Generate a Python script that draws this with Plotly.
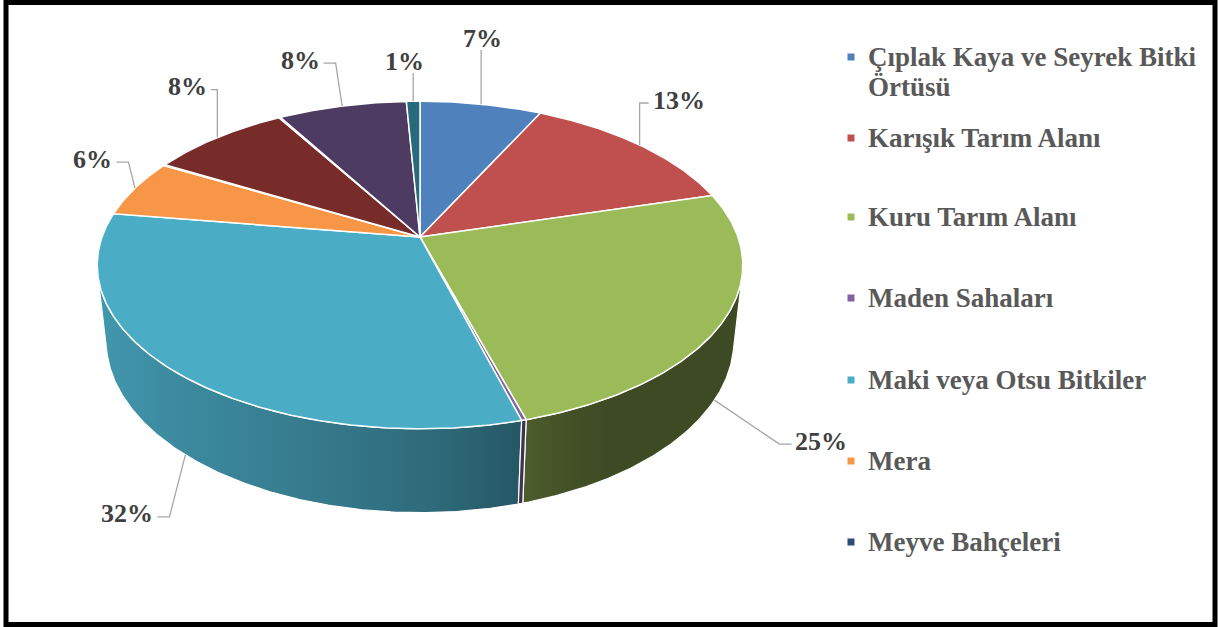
import math
import plotly.graph_objects as go

# ---- data -------------------------------------------------------------
categories = [
    "Çıplak Kaya ve Seyrek Bitki Örtüsü",
    "Karışık Tarım Alanı",
    "Kuru Tarım Alanı",
    "Maden Sahaları",
    "Maki veya Otsu Bitkiler",
    "Mera",
    "Meyve Bahçeleri",
    "Orman Alanı",
    "Su Yüzeyleri",
    "Sulu Tarım Alanı",
    "Yerleşim Alanı",
]
shares = [7.2, 13.4, 24.9, 0.2, 31.7, 5.7, 0.1, 8.3, 0.1, 7.6, 0.8]
legend_text = [
    "Çıplak Kaya ve Seyrek Bitki<br>Örtüsü",
    "Karışık Tarım Alanı",
    "Kuru Tarım Alanı",
    "Maden Sahaları",
    "Maki veya Otsu Bitkiler",
    "Mera",
    "Meyve Bahçeleri",
]

# ---- style ------------------------------------------------------------
colors = ["#4F81BD", "#C0504D", "#9BBB59", "#8064A2", "#4BACC6", "#F79646",
          "#2C4D75", "#772C2A", "#5F7530", "#4D3B62", "#276A7C"]
# label offsets (px) from the leader anchor on the pie edge
label_offsets = {0: (1, -66), 1: (39, -45), 2: (107, 41), 4: (-58, 59),
                 5: (-42, -29), 7: (-30, -51), 9: (-42, -46), 10: (-9, -40)}
# legend layout (px)
LEGEND_MARK_X = 851
LEGEND_TEXT_X = 866
LEGEND_Y = [57, 138, 217, 298, 380, 461, 542]
LEGEND_LINE = 30

SERIF = "Liberation Serif"
W, H_PX = 1218, 627
CX, CY = 420.0, 237.0        # screen position of the pie centre
SCALE = 318.0                # px per unit radius
TILT = math.radians(30)      # elevation of the view
DIST = 5.06                  # perspective distance (in radii)
THICK = 0.28                 # pie thickness (in radii)
LABEL_FONT = 26
LEGEND_FONT = 27
LEADER = "#A6A6A6"


def project(theta_deg, z, r=1.0):
    t = math.radians(theta_deg)
    x, y = r * math.cos(t), r * math.sin(t)
    yup = z * math.cos(TILT) + y * math.sin(TILT)
    d = y * math.cos(TILT) - z * math.sin(TILT)
    f = DIST / (DIST + d)
    return CX + SCALE * f * x, CY - SCALE * f * yup


def hex_rgb(h):
    h = h.lstrip("#")
    return tuple(int(h[i:i + 2], 16) for i in (0, 2, 4))


def shade(theta_deg):
    c = math.cos(math.radians(theta_deg))
    s = 0.64 - 0.25 * c if c < 0 else 0.64 - 0.5 * c
    return min(0.9, max(0.40, s))


def shaded(hexcol, k):
    r, g, b = hex_rgb(hexcol)
    return f"rgb({int(r * k)},{int(g * k)},{int(b * k)})"


def arc(a0, a1, z, step=0.5):
    n = max(2, int(math.ceil(abs(a1 - a0) / step)) + 1)
    return [project(a0 + (a1 - a0) * i / (n - 1), z) for i in range(n)]


total = sum(shares)
bounds = []
cum = 0.0
for v in shares:
    a0 = 90 - 360 * cum / total
    cum += v
    a1 = 90 - 360 * cum / total
    bounds.append((a0, a1))

fig = go.Figure()

# ---- outer wall (front half only) --------------------------------------
lim = math.degrees(math.asin(1.0 / (DIST * math.cos(TILT))))
vis_lo, vis_hi = -180 + lim, -lim
walls = []
for i, (a0, a1) in enumerate(bounds):
    lo, hi = max(a1, vis_lo), min(a0, vis_hi)
    if hi <= lo:
        continue
    top = arc(lo, hi, 0)
    bot = arc(hi, lo, -THICK)
    pts = top + bot + [top[0]]
    xs = [p[0] for p in pts]
    ys = [p[1] for p in pts]
    xmin, xmax = min(xs), max(xs)
    stops = []
    for k in range(9):
        th = lo + (hi - lo) * k / 8
        xm = 0.5 * (project(th, 0)[0] + project(th, -THICK)[0])
        pos = 0.0 if xmax - xmin < 1e-6 else (xm - xmin) / (xmax - xmin)
        stops.append([min(1.0, max(0.0, pos)), shaded(colors[i], shade(th))])
    stops[0][0] = 0.0
    stops[-1][0] = 1.0
    for k in range(1, len(stops)):
        stops[k][0] = max(stops[k][0], stops[k - 1][0])
    walls.append(((lo + hi) / 2, xs, ys, stops, i))

for _, xs, ys, stops, i in sorted(walls, key=lambda w: -math.sin(math.radians(w[0]))):
    fig.add_trace(go.Scatter(
        x=xs, y=ys, mode="lines", fill="toself",
        fillcolor=stops[len(stops) // 2][1],
        fillgradient=dict(type="horizontal", colorscale=stops,
                          start=min(xs), stop=max(xs) if max(xs) > min(xs) else min(xs) + 1),
        line=dict(color="white", width=1.2),
        hoverinfo="skip", showlegend=False))

# ---- top faces ---------------------------------------------------------
for i, (a0, a1) in enumerate(bounds):
    pts = [(CX, CY)] + arc(a0, a1, 0) + [(CX, CY)]
    fig.add_trace(go.Scatter(
        x=[p[0] for p in pts], y=[p[1] for p in pts],
        mode="lines", fill="toself", fillcolor=colors[i],
        line=dict(color="white", width=1.5),
        hoverinfo="skip", showlegend=False, name=categories[i]))

# ---- data labels with leader lines --------------------------------------
annotations = []
for i, (a0, a1) in enumerate(bounds):
    pct = round(100 * shares[i] / total)
    if pct == 0:
        continue
    mid = (a0 + a1) / 2
    z = 0 if math.sin(math.radians(mid)) > 0 else -THICK
    ax, ay = project(mid, z)
    dx, dy = label_offsets[i]
    lx, ly = ax + dx, ay + dy
    text = f"{pct}%"
    half_w = LABEL_FONT * (0.5 * (len(text) - 1) + 1.0) / 2
    if ax > lx + half_w + 4:
        sx = lx + half_w + 4
        path = [(sx, ly + 3), (min(sx + 12, ax), ly + 3), (ax, ay)]
    elif ax < lx - half_w - 4:
        sx = lx - half_w - 4
        path = [(sx, ly + 3), (max(sx - 12, ax), ly + 3), (ax, ay)]
    else:
        sy = ly + 0.45 * LABEL_FONT if ay > ly else ly - 0.45 * LABEL_FONT
        path = [(ax, sy), (ax, ay)]
    fig.add_trace(go.Scatter(
        x=[p[0] for p in path], y=[p[1] for p in path], mode="lines",
        line=dict(color=LEADER, width=1.3), hoverinfo="skip", showlegend=False))
    annotations.append(dict(
        x=lx, y=ly, xref="x", yref="y", text=text, showarrow=False,
        font=dict(family=SERIF, size=LABEL_FONT, color="#404040", weight="bold"),
        xanchor="center", yanchor="middle"))

# ---- legend: colour keys and entry names ---------------------------------
fig.add_trace(go.Scatter(
    x=[LEGEND_MARK_X] * len(legend_text), y=LEGEND_Y, mode="markers",
    marker=dict(symbol="square", size=7, color=colors[:len(legend_text)]),
    hoverinfo="skip", showlegend=False))
for name, y in zip(legend_text, LEGEND_Y):
    for k, line in enumerate(name.split("<br>")):
        annotations.append(dict(
            x=LEGEND_TEXT_X, y=y + k * LEGEND_LINE, xref="x", yref="y", text=line,
            showarrow=False,
            font=dict(family=SERIF, size=LEGEND_FONT, color="#595959", weight="bold"),
            xanchor="left", yanchor="middle"))

fig.update_layout(
    width=W, height=H_PX,
    margin=dict(l=0, r=0, t=0, b=0),
    paper_bgcolor="white", plot_bgcolor="white",
    xaxis=dict(range=[0, W], visible=False, fixedrange=True),
    yaxis=dict(range=[H_PX, 0], visible=False, fixedrange=True),
    hovermode=False, showlegend=False,
    annotations=annotations,
    shapes=[dict(type="rect", xref="x", yref="y", x0=6, y0=2.5, x1=1215, y1=624.5,
                 line=dict(color="black", width=5), fillcolor="rgba(0,0,0,0)",
                 layer="above")],
)

fig.write_html("out.html")
